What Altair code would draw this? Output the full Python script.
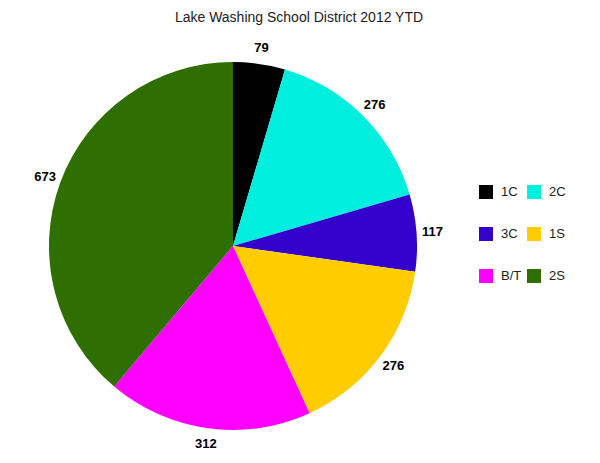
import altair as alt
import pandas as pd

categories = ["1C", "2C", "3C", "1S", "B/T", "2S"]
counts = [79, 276, 117, 276, 312, 673]
colors = ["#000000", "#00eedd", "#3300cc", "#ffcc00", "#ff00ff", "#2f6e00"]

df = pd.DataFrame({"cat": categories, "n": counts, "order": range(len(categories))})

base = alt.Chart(df).encode(
    theta=alt.Theta("n:Q", stack=True),
    order=alt.Order("order:Q"),
)

pie = base.mark_arc(outerRadius=184).encode(
    color=alt.Color(
        "cat:N",
        sort=categories,
        scale=alt.Scale(domain=categories, range=colors),
        legend=alt.Legend(
            title=None,
            orient="none",
            legendX=471,
            legendY=139,
            columns=2,
            direction="horizontal",
            symbolType="square",
            symbolSize=196,
            symbolStrokeWidth=0,
            symbolOpacity=1,
            labelFont="Liberation Sans",
            labelFontSize=13,
            labelColor="#222222",
            labelOffset=8,
            rowPadding=28,
            columnPadding=5,
        ),
    )
)

labels = base.mark_text(
    radius=200, font="Liberation Sans", fontSize=13, fontWeight="bold", color="#000000"
).encode(text="n:Q")

chart = (
    (pie + labels)
    .properties(
        width=450,
        height=400,
        autosize="none",
        padding={"top": 38, "left": 0, "right": 134, "bottom": 9},
        title=alt.TitleParams(
            "Lake Washing School District 2012 YTD",
            font="Liberation Sans",
            fontSize=14,
            fontWeight="normal",
            color="#222222",
            offset=17,
            dx=66,
        ),
    )
    .configure_view(stroke=None)
)

chart.save("out.html", embed_options={"renderer": "svg", "actions": False})
